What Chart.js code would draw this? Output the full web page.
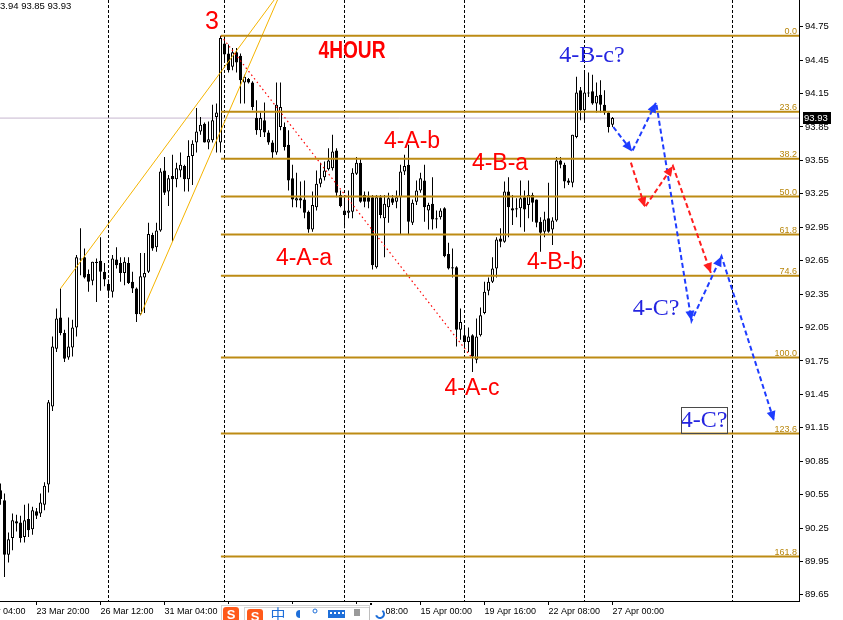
<!DOCTYPE html>
<html>
<head>
<meta charset="utf-8">
<script src="https://cdn.jsdelivr.net/npm/chart.js@4.4.1/dist/chart.umd.min.js"></script>
<style>
  html, body { margin: 0; padding: 0; background: #ffffff; }
  canvas { display: block; }
</style>
</head>
<body>
<canvas id="c" width="843" height="620"></canvas>
<script>
// ---- 4-hour OHLC bars (index 0 = leftmost bar) ----
const opens = [
  90.59,90.50,90.01,90.16,90.31,90.30,90.17,90.33,90.24,90.40,
  90.38,90.46,90.64,91.34,91.86,92.14,92.00,91.78,91.87,92.05,
  92.66,92.68,92.53,92.47,92.64,92.65,92.55,92.44,92.37,92.66,
  92.63,92.54,92.63,92.46,92.40,92.17,92.50,92.55,92.88,92.77,
  92.92,93.46,93.27,93.41,93.38,93.46,93.50,93.38,93.59,93.71,
  93.81,93.88,93.71,93.73,93.94,93.71,94.60,94.51,94.39,94.52,
  94.49,94.25,94.28,94.25,93.93,93.82,93.91,93.80,93.71,93.62,
  93.85,93.85,93.69,93.39,93.19,93.21,93.20,93.09,92.93,93.13,
  93.34,93.40,93.47,93.48,93.64,93.24,93.10,93.08,93.09,93.43,
  93.53,93.24,93.22,93.22,92.59,93.22,93.03,93.13,93.21,93.18,
  93.22,93.45,93.51,92.99,93.18,93.28,93.37,93.10,93.16,93.03,
  93.04,93.12,92.71,92.59,92.59,92.03,91.98,91.92,91.98,91.76,
  91.98,92.18,92.38,92.46,92.58,92.85,92.82,93.27,93.12,93.11,
  93.12,93.22,93.15,93.24,93.20,93.00,92.91,93.03,92.93,93.01,
  93.55,93.51,93.37,93.35,93.76,94.18,94.00,94.16,94.17,94.06,
  94.14,94.05,93.98,93.87
];
const highs = [
  90.65,90.56,90.21,90.38,90.37,90.36,90.46,90.47,90.44,90.43,
  90.56,90.66,91.40,91.97,92.22,92.40,92.03,92.14,92.12,92.70,
  92.94,92.76,92.57,92.64,92.67,92.86,92.63,92.48,92.70,92.77,
  92.68,92.68,92.68,92.55,92.41,92.72,92.72,92.99,92.90,92.99,
  93.48,93.58,93.42,93.60,93.53,93.62,93.51,93.73,93.73,94.02,
  93.94,93.89,93.90,94.05,94.06,94.67,94.66,94.59,94.56,94.56,
  94.51,94.32,94.29,94.26,94.09,93.98,94.07,93.82,93.73,94.25,
  94.25,93.89,93.82,93.51,93.44,93.36,93.37,93.10,93.27,93.46,
  93.53,93.54,93.66,93.78,93.66,93.28,93.22,93.28,93.48,93.58,
  93.57,93.27,93.27,93.24,93.24,93.24,93.24,93.26,93.24,93.28,
  93.51,93.60,93.69,93.20,93.37,93.44,93.51,93.17,93.40,93.10,
  93.12,93.13,92.81,92.76,92.60,92.22,92.05,92.05,91.99,92.13,
  92.23,92.46,92.50,92.68,92.86,92.94,93.36,93.40,93.24,93.21,
  93.37,93.28,93.37,93.26,93.20,93.04,93.09,93.35,93.04,93.58,
  93.58,93.53,93.39,93.78,94.30,94.21,94.36,94.34,94.32,94.25,
  94.27,94.18,93.99,93.94
];
const lows = [
  90.46,89.81,89.94,90.05,90.22,90.12,90.12,90.17,90.19,90.33,
  90.35,90.41,90.57,91.30,91.83,91.98,91.74,91.76,91.79,91.97,
  92.52,92.49,92.37,92.43,92.28,92.38,92.42,92.34,92.32,92.58,
  92.46,92.43,92.44,92.36,92.10,92.16,92.18,92.54,92.74,92.73,
  92.91,93.24,93.14,92.82,93.31,93.40,93.27,93.27,93.33,93.62,
  93.78,93.71,93.65,93.71,93.62,93.62,94.45,94.34,94.36,94.34,
  94.06,94.06,94.24,94.00,93.78,93.76,93.76,93.69,93.57,93.60,
  93.82,93.64,93.28,93.13,93.13,93.12,93.03,92.90,92.91,93.10,
  93.31,93.37,93.46,93.46,93.22,93.13,92.94,93.03,93.03,93.42,
  93.17,93.13,93.12,92.57,92.58,93.03,92.68,92.99,93.15,93.12,
  92.88,93.42,92.88,92.97,93.15,93.26,93.00,92.93,92.93,92.94,
  93.02,92.68,92.57,92.50,91.88,91.94,91.89,91.83,91.65,91.73,
  91.97,92.17,92.34,92.45,92.50,92.77,92.81,92.86,92.97,93.04,
  92.95,92.91,93.03,93.00,92.95,92.73,92.86,92.90,92.79,93.00,
  93.48,93.30,93.33,93.31,93.75,93.91,93.91,94.12,94.05,93.98,
  93.98,93.96,93.80,93.85
];
const closes = [
  90.51,90.01,90.15,90.32,90.29,90.16,90.32,90.23,90.41,90.36,
  90.48,90.63,91.38,91.88,92.13,92.00,91.77,91.88,92.05,92.68,
  92.67,92.50,92.46,92.64,92.63,92.55,92.48,92.38,92.67,92.61,
  92.54,92.64,92.45,92.40,92.17,92.51,92.54,92.89,92.76,92.92,
  93.45,93.26,93.39,93.38,93.48,93.51,93.38,93.59,93.70,93.81,
  93.87,93.71,93.74,93.91,93.98,94.65,94.50,94.36,94.52,94.43,
  94.27,94.30,94.25,94.03,93.82,93.93,93.80,93.71,93.62,94.05,
  94.03,93.67,93.37,93.20,93.21,93.19,93.08,92.93,93.15,93.34,
  93.39,93.46,93.55,93.63,93.26,93.14,93.06,93.10,93.44,93.53,
  93.18,93.18,93.18,92.61,93.22,93.06,93.16,93.21,93.17,93.22,
  93.45,93.50,93.00,93.17,93.28,93.39,93.13,93.15,93.02,93.02,
  93.10,92.69,92.58,92.58,92.03,92.10,91.92,91.97,91.79,91.97,
  92.16,92.37,92.46,92.58,92.84,92.82,93.27,93.13,93.10,93.12,
  93.21,93.11,93.24,93.17,92.99,92.90,93.02,92.91,93.01,93.55,
  93.51,93.36,93.35,93.78,94.16,94.00,94.16,94.15,94.06,94.13,
  94.05,93.98,93.85,93.93
];

// ---- axes ----
const xMin = -0.125, xMax = 199.625;
const yMin = 89.595, yMax = 94.99;
const timeTickIndex = [-7, 9, 25, 41, 57, 73, 89, 105, 121, 137, 153];
const timeTickLabels = ['19 Mar 04:00','23 Mar 20:00','26 Mar 12:00','31 Mar 04:00','2 Apr 20:00',
  '7 Apr 12:00','10 Apr 08:00','15 Apr 00:00','19 Apr 16:00','22 Apr 08:00','27 Apr 00:00'];
const separatorIndex = [27, 56, 86, 116, 146, 183];
const priceTicks = [89.65,89.95,90.25,90.55,90.85,91.15,91.45,91.75,92.05,92.35,92.65,92.95,93.25,93.55,93.85,94.15,94.45,94.75];
const lastPrice = 93.93;
const headerText = '3.94 93.85 93.93';

// ---- Fibonacci retracement (swing high -> swing low) ----
const fibHigh = 94.67, fibLow = 91.78;
const fibHighIndex = 55.1, fibLowIndex = 117.8;
const fibRatios = [0.0, 23.6, 38.2, 50.0, 61.8, 74.6, 100.0, 123.6, 161.8];

// ---- trend channel lines ----
const channelUpperX = [15, 68.4],  channelUpperY = [92.40, 94.99];
const channelLowerX = [35, 69.25], channelLowerY = [92.16, 94.99];

// ---- projected paths ----
const bluePathX = [153.2, 157.9, 163.9, 172.75, 180.25, 193.4];
const bluePathY = [93.85, 93.63, 94.07, 92.11, 92.69, 91.21];
const redPathX = [157.6, 161.1, 168.1, 177.6];
const redPathY = [93.53, 93.13, 93.50, 92.54];

// ---- wave annotations ----
const waveText  = ['3', '4HOUR', '4-A-a', '4-A-b', '4-A-c', '4-B-a', '4-B-b', '4-B-c?', '4-C?', '4-C?'];
const waveIndex = [52.875, 87.875, 75.875, 102.875, 117.875, 124.875, 138.625, 147.875, 163.875, 175.875];
const wavePrice = [94.79, 94.53, 92.67, 93.72, 91.50, 93.52, 92.63, 94.50, 92.23, 91.22];
const waveStyle = ['red', 'title', 'red', 'red', 'red', 'red', 'red', 'blue', 'blue', 'blueBox'];

const SANS = '"Liberation Sans", Arial, sans-serif';
const SERIF = '"Liberation Serif", "Times New Roman", serif';
Chart.defaults.font.family = SANS;

const fibLevels = fibRatios.map(r => fibHigh - (fibHigh - fibLow) * r / 100);
const pts = (xs, ys) => xs.map((x, k) => ({ x: x, y: ys[k] }));

const datasets = [];
datasets.push({ type: 'line', data: pts(bluePathX, bluePathY), borderColor: '#1e3cff', borderWidth: 2,
  borderDash: [5, 3], pointRadius: 0, fill: false, arrowHeads: true, order: 0 });
datasets.push({ type: 'line', data: pts(redPathX, redPathY), borderColor: '#ff1e1e', borderWidth: 2,
  borderDash: [5, 3], pointRadius: 0, fill: false, arrowHeads: true, order: 0 });
fibLevels.forEach(lv => datasets.push({ type: 'line', data: [{ x: fibHighIndex, y: lv }, { x: xMax, y: lv }],
  borderColor: '#bd8b14', borderWidth: 2, pointRadius: 0, fill: false, order: 1 }));
datasets.push({ type: 'line', data: [{ x: fibHighIndex, y: fibHigh }, { x: fibLowIndex, y: fibLow }],
  borderColor: '#ff0000', borderWidth: 1.2, borderDash: [1.5, 3], pointRadius: 0, fill: false, order: 2 });
datasets.push({ type: 'line', data: pts(channelUpperX, channelUpperY), borderColor: '#f5b400',
  borderWidth: 1, pointRadius: 0, fill: false, order: 2 });
datasets.push({ type: 'line', data: pts(channelLowerX, channelLowerY), borderColor: '#f5b400',
  borderWidth: 1, pointRadius: 0, fill: false, order: 2 });
datasets.push({ type: 'bar', data: opens.map((o, i) => ({ x: i, y: [o, closes[i]] })),
  backgroundColor: opens.map((o, i) => closes[i] >= o ? '#ffffff' : '#000000'),
  borderColor: '#000000', borderWidth: 1, borderSkipped: false, barThickness: 3,
  minBarLength: 1, grouped: false, inflateAmount: 0, order: 3 });
datasets.push({ type: 'bar', data: lows.map((l, i) => ({ x: i, y: [l, highs[i]] })),
  backgroundColor: '#000000', borderWidth: 0, barThickness: 1, minBarLength: 1,
  grouped: false, inflateAmount: 0, order: 4 });
datasets.push({ type: 'line', data: [{ x: xMin, y: lastPrice }, { x: xMax, y: lastPrice }],
  borderColor: '#c6b6cf', borderWidth: 1, pointRadius: 0, fill: false, order: 5 });

// arrowheads at every vertex of the projected paths
const arrowHeads = {
  id: 'arrowHeads',
  afterDatasetsDraw(chart) {
    const ctx = chart.ctx;
    chart.data.datasets.forEach((ds, di) => {
      if (!ds.arrowHeads) return;
      const el = chart.getDatasetMeta(di).data;
      ctx.save();
      ctx.fillStyle = ds.borderColor;
      for (let k = 1; k < el.length; k++) {
        const a = el[k - 1], b = el[k];
        const ang = Math.atan2(b.y - a.y, b.x - a.x);
        const L = 10, H = 4.5, c = Math.cos(ang), s = Math.sin(ang);
        ctx.beginPath();
        ctx.moveTo(b.x, b.y);
        ctx.lineTo(b.x - L * c + H * s, b.y - L * s - H * c);
        ctx.lineTo(b.x - L * c - H * s, b.y - L * s + H * c);
        ctx.closePath();
        ctx.fill();
      }
      ctx.restore();
    });
  }
};

function roundRect(ctx, x, y, w, h, r) {
  ctx.beginPath();
  ctx.moveTo(x + r, y); ctx.lineTo(x + w - r, y); ctx.quadraticCurveTo(x + w, y, x + w, y + r);
  ctx.lineTo(x + w, y + h - r); ctx.quadraticCurveTo(x + w, y + h, x + w - r, y + h);
  ctx.lineTo(x + r, y + h); ctx.quadraticCurveTo(x, y + h, x, y + h - r);
  ctx.lineTo(x, y + r); ctx.quadraticCurveTo(x, y, x + r, y);
  ctx.closePath();
}

// input-method status bar docked over the time axis
function drawImeBar(ctx) {
  ctx.save();
  ctx.fillStyle = '#ffffff';
  ctx.fillRect(221, 604, 165, 16);
  ctx.strokeStyle = '#a8a8a8';
  ctx.lineWidth = 1;
  ctx.setLineDash([1, 1]);
  ctx.strokeRect(221.5, 605.5, 148, 20);
  ctx.strokeRect(244.5, 607.5, 125, 20);
  ctx.setLineDash([]);
  [[223, 607], [247, 609]].forEach(([x, y]) => {
    ctx.fillStyle = '#ff5a1a';
    roundRect(ctx, x, y, 16, 15, 3);
    ctx.fill();
    ctx.fillStyle = '#ffffff';
    ctx.font = 'bold 13px ' + SANS;
    ctx.textAlign = 'center';
    ctx.textBaseline = 'middle';
    ctx.fillText('S', x + 8, y + 8);
  });
  ctx.fillStyle = '#1e6fd9';
  ctx.font = '15px "Noto Sans CJK SC", sans-serif';
  ctx.textAlign = 'center';
  ctx.textBaseline = 'middle';
  ctx.fillText('中', 278, 614);
  ctx.beginPath(); ctx.arc(300, 614, 4, 0.5 * Math.PI, 1.5 * Math.PI); ctx.fill();
  ctx.beginPath(); ctx.arc(315, 611, 2, 0, 2 * Math.PI); ctx.strokeStyle = '#1e6fd9'; ctx.stroke();
  ctx.fillRect(328, 610, 17, 8);
  ctx.fillStyle = '#ffffff';
  for (let k = 0; k < 4; k++) ctx.fillRect(330 + k * 4, 612, 2, 2);
  ctx.fillStyle = '#9a9a9a';
  ctx.fillRect(354, 609, 6, 7);
  ctx.strokeStyle = '#1e6fd9';
  ctx.lineWidth = 2;
  ctx.beginPath(); ctx.arc(380, 614, 4, -0.3 * Math.PI, 0.9 * Math.PI); ctx.stroke();
  ctx.fillStyle = '#000000';
  ctx.fillRect(370, 603, 2, 2);
  ctx.restore();
}

const annotations = {
  id: 'annotations',
  afterDraw(chart) {
    const ctx = chart.ctx, xs = chart.scales.x, ys = chart.scales.y, area = chart.chartArea;
    ctx.save();

    // quote line
    ctx.fillStyle = '#000000';
    ctx.font = '9.5px ' + SANS;
    ctx.textAlign = 'left';
    ctx.textBaseline = 'top';
    ctx.fillText(headerText, 0, 2);

    // level captions of the retracement
    ctx.fillStyle = '#b8860b';
    ctx.font = '9px ' + SANS;
    ctx.textAlign = 'right';
    ctx.textBaseline = 'alphabetic';
    fibRatios.forEach((r, k) => {
      ctx.fillText(r.toFixed(1), area.right - 2, ys.getPixelForValue(fibLevels[k]) - 2);
    });

    // wave labels
    waveText.forEach((t, k) => {
      const x = xs.getPixelForValue(waveIndex[k]);
      const y = ys.getPixelForValue(wavePrice[k]);
      const st = waveStyle[k];
      ctx.textAlign = 'center';
      ctx.textBaseline = 'middle';
      if (st === 'title') {
        ctx.font = 'bold 24px ' + SANS;
        const w = ctx.measureText(t).width;
        ctx.save();
        ctx.translate(x, y);
        ctx.scale(67 / w, 1);
        ctx.fillStyle = '#ff0000';
        ctx.fillText(t, 0, 0);
        ctx.restore();
      } else if (st === 'red') {
        ctx.font = (t === '3' ? '25px ' : '23px ') + SANS;
        ctx.fillStyle = '#ff0000';
        ctx.fillText(t, x, y);
      } else {
        ctx.font = '24px ' + SERIF;
        ctx.fillStyle = '#2424e0';
        ctx.fillText(t, x, y + 1);
        if (st === 'blueBox') {
          ctx.strokeStyle = '#4a4a4a';
          ctx.lineWidth = 1;
          ctx.strokeRect(Math.round(x - 23) + 0.5, Math.round(y - 13) + 0.5, 46, 26);
        }
      }
    });

    // last price tag on the price axis
    const py = Math.round(ys.getPixelForValue(lastPrice));
    ctx.fillStyle = '#000000';
    ctx.fillRect(area.right + 4, py - 6, 28, 12);
    ctx.fillStyle = '#ffffff';
    ctx.font = '9.5px ' + SANS;
    ctx.textAlign = 'left';
    ctx.textBaseline = 'middle';
    ctx.fillText(lastPrice.toFixed(2), area.right + 5, py);

    ctx.restore();
    drawImeBar(ctx);
  }
};

new Chart(document.getElementById('c'), {
  type: 'bar',
  data: { datasets: datasets },
  options: {
    responsive: false,
    animation: false,
    devicePixelRatio: 1,
    events: [],
    layout: { padding: 0 },
    plugins: { legend: { display: false }, tooltip: { enabled: false } },
    scales: {
      x: {
        type: 'linear', position: 'bottom', min: xMin, max: xMax, offset: false, bounds: 'data',
        grid: { drawOnChartArea: false, drawTicks: true, tickLength: 4, tickColor: '#000000', offset: false },
        border: { display: true, color: '#000000', width: 1 },
        ticks: {
          autoSkip: false, maxRotation: 0, minRotation: 0, align: 'start', padding: 1,
          color: '#000000', font: { size: 9 },
          callback: v => { const k = timeTickIndex.indexOf(v); return k >= 0 ? timeTickLabels[k] : ''; }
        },
        afterBuildTicks: s => { s.ticks = timeTickIndex.map(v => ({ value: v })); },
        afterFit: s => { s.height = 19; s.paddingLeft = 0; s.paddingRight = 0; }
      },
      xw: {
        type: 'linear', axis: 'x', position: 'bottom', min: xMin, max: xMax, offset: false, bounds: 'data',
        grid: { drawOnChartArea: true, drawTicks: false, color: '#000000', lineWidth: 1, offset: false },
        border: { display: false, dash: [3, 2] },
        ticks: { display: false },
        afterBuildTicks: s => { s.ticks = separatorIndex.map(v => ({ value: v })); },
        afterFit: s => { s.height = 0; s.paddingLeft = 0; s.paddingRight = 0; }
      },
      y: {
        type: 'linear', position: 'right', min: yMin, max: yMax, bounds: 'data', beginAtZero: false,
        grid: { drawOnChartArea: false, drawTicks: true, tickLength: 4, tickColor: '#000000' },
        border: { display: true, color: '#000000', width: 1 },
        ticks: { padding: 2, color: '#000000', font: { size: 9.5 }, callback: v => Number(v).toFixed(2) },
        afterBuildTicks: s => { s.ticks = priceTicks.map(v => ({ value: v })); },
        afterFit: s => { s.width = 44; s.paddingTop = 0; s.paddingBottom = 0; }
      }
    }
  },
  plugins: [arrowHeads, annotations]
});
</script>
</body>
</html>
